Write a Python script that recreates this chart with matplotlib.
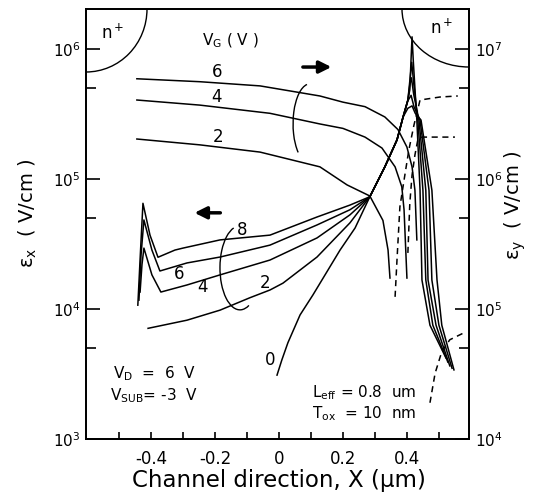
import numpy as np
import matplotlib
matplotlib.use("Agg")
import matplotlib.pyplot as plt
from matplotlib.patches import Arc
from matplotlib.ticker import FixedLocator, NullFormatter, FuncFormatter

plt.rcParams['font.family'] = ['DejaVu Sans']
plt.rcParams['mathtext.default'] = 'regular'

# transverse field eps_y (right axis), V_G = 2, 4, 6 V
x_ey_6 = [-0.444, -0.247, -0.059, 0.128, 0.200, 0.269, 0.331, 0.372, 0.400, 0.416, 0.425, 0.431]
ey_6 = [5.9e6, 5.6e6, 5.2e6, 4.35e6, 3.9e6, 3.6e6, 3.0e6, 2.4e6, 1.76e6, 1.24e6, 8.2e5, 3.4e5]
x_ey_4 = [-0.444, -0.247, -0.028, 0.128, 0.200, 0.269, 0.322, 0.363, 0.384, 0.391, 0.400]
ey_4 = [4.05e6, 3.7e6, 3.2e6, 2.65e6, 2.45e6, 2.1e6, 1.73e6, 1.24e6, 8.7e5, 5.8e5, 1.73e5]
x_ey_2 = [-0.444, -0.247, -0.059, 0.128, 0.213, 0.284, 0.325, 0.341, 0.347]
ey_2 = [2.03e6, 1.83e6, 1.61e6, 1.24e6, 9.0e5, 7.4e5, 4.8e5, 2.84e5, 1.73e5]

# dashed eps_y curves near the drain (right axis)
x_dash_a = [0.363, 0.369, 0.378, 0.391, 0.406, 0.422, 0.441, 0.503, 0.559]
e_dash_a = [1.24e5, 2.4e5, 6.1e5, 9.8e5, 1.67e6, 2.6e6, 4.05e6, 4.27e6, 4.35e6]
x_dash_b = [0.403, 0.409, 0.416, 0.425, 0.434, 0.447, 0.550]
e_dash_b = [2.7e5, 6.5e5, 1.07e6, 1.53e6, 2.0e6, 2.1e6, 2.1e6]
x_dash_c = [0.472, 0.488, 0.509, 0.534, 0.575]
e_dash_c = [1.9e4, 3.2e4, 4.7e4, 5.8e4, 6.5e4]

# longitudinal field eps_x (left axis), V_G = 0, 2, 4, 6, 8 V
x_ex_8 = [-0.441, -0.434, -0.425, -0.403, -0.378, -0.325, -0.300, -0.184, -0.028, 0.119, 0.222,
          0.284, 0.331, 0.369, 0.388, 0.403, 0.416, 0.426, 0.444, 0.478, 0.494, 0.509, 0.547]
ex_8 = [1.07e4, 2.4e4, 6.5e4, 3.7e4, 2.5e4, 2.84e4, 2.94e4, 3.4e4, 3.7e4, 5.1e4, 6.3e4,
        7.3e4, 1.24e5, 2.0e5, 3.0e5, 3.5e5, 3.65e5, 3.2e5, 2.84e5, 8.2e4, 1.67e4, 7.5e3, 3.4e3]
x_ex_6 = [-0.4375, -0.431, -0.422, -0.397, -0.372, -0.2875, -0.184, -0.028, 0.119, 0.222,
          0.284, 0.331, 0.369, 0.388, 0.403, 0.413, 0.422, 0.441, 0.469, 0.478, 0.500, 0.541]
ex_6 = [1.17e4, 2.6e4, 4.84e4, 2.84e4, 1.96e4, 2.26e4, 2.51e4, 3.1e4, 4.43e4, 5.8e4,
        7.3e4, 1.24e5, 2.0e5, 3.0e5, 4.0e5, 4.4e5, 3.6e5, 2.84e5, 8.2e4, 1.67e4, 7.5e3, 3.5e3]
x_ex_4 = [-0.434, -0.428, -0.422, -0.397, -0.369, -0.2875, -0.184, -0.028, 0.119, 0.222,
          0.284, 0.331, 0.369, 0.388, 0.403, 0.409, 0.414, 0.421, 0.4375, 0.459, 0.466, 0.491, 0.534]
ex_4 = [1.35e4, 2.2e4, 2.94e4, 1.83e4, 1.35e4, 1.53e4, 1.83e4, 2.38e4, 3.52e4, 5.3e4,
        7.3e4, 1.24e5, 2.0e5, 3.0e5, 4.05e5, 5.3e5, 6.0e5, 4.5e5, 2.84e5, 8.2e4, 1.67e4, 7.5e3, 3.65e3]
x_ex_2 = [-0.409, -0.2875, -0.184, -0.091, -0.028, 0.0125, 0.119, 0.222, 0.284, 0.331, 0.369,
          0.388, 0.403, 0.410, 0.415, 0.421, 0.434, 0.450, 0.459, 0.481, 0.528]
ex_2 = [7.1e3, 8.2e3, 9.8e3, 1.22e4, 1.4e4, 1.58e4, 2.51e4, 4.6e4, 7.3e4, 1.24e5, 2.0e5,
        3.0e5, 4.05e5, 6.0e5, 7.9e5, 5.5e5, 2.84e5, 8.2e4, 1.67e4, 7.5e3, 3.9e3]
x_ex_0 = [-0.006, 0.009, 0.028, 0.066, 0.106, 0.191, 0.238, 0.284, 0.331, 0.369, 0.388,
          0.403, 0.409, 0.4125, 0.416, 0.420, 0.431, 0.441, 0.447, 0.472, 0.522]
ex_0 = [3.1e3, 4.05e3, 5.5e3, 9.0e3, 1.28e4, 2.84e4, 4.2e4, 7.3e4, 1.24e5, 2.0e5, 3.0e5,
        4.05e5, 4.84e5, 7.9e5, 1.24e6, 8.0e5, 2.84e5, 8.2e4, 1.67e4, 7.5e3, 4.2e3]

x_ticks = [-0.4, -0.2, 0, 0.2, 0.4]
x_tick_labels = ['-0.4', '-0.2', '0', '0.2', '0.4']
x_minor = [-0.5, -0.3, -0.1, 0.1, 0.3, 0.5]

fig = plt.figure(figsize=(5.33, 4.98), dpi=100)
ax = fig.add_axes([86 / 533, 1 - 439 / 498, 383 / 533, 430 / 498])
ax2 = ax.twinx()

lw = 1.1
for xs, ys in [(x_ex_8, ex_8), (x_ex_6, ex_6), (x_ex_4, ex_4), (x_ex_2, ex_2), (x_ex_0, ex_0)]:
    ax.plot(xs, ys, color='k', lw=lw)
for xs, ys in [(x_ey_6, ey_6), (x_ey_4, ey_4), (x_ey_2, ey_2)]:
    ax2.plot(xs, ys, color='k', lw=lw)
for xs, ys in [(x_dash_a, e_dash_a), (x_dash_b, e_dash_b), (x_dash_c, e_dash_c)]:
    ax2.plot(xs, ys, color='k', lw=lw, dashes=(4, 3))

ax.set_xlim(-0.603, 0.594)
ax.set_yscale('log')
ax.set_ylim(1e3, 2.03e6)
ax2.set_yscale('log')
ax2.set_ylim(1e4, 2.03e7)

fmt = FuncFormatter(lambda v, p: '$10^{%d}$' % int(round(np.log10(v))))
ax.yaxis.set_major_locator(FixedLocator([1e3, 1e4, 1e5, 1e6]))
ax.yaxis.set_minor_locator(FixedLocator([5e3, 5e4, 5e5]))
ax.yaxis.set_major_formatter(fmt)
ax.yaxis.set_minor_formatter(NullFormatter())
ax2.yaxis.set_major_locator(FixedLocator([1e4, 1e5, 1e6, 1e7]))
ax2.yaxis.set_minor_locator(FixedLocator([5e4, 5e5, 5e6]))
ax2.yaxis.set_major_formatter(fmt)
ax2.yaxis.set_minor_formatter(NullFormatter())

ax.set_xticks(x_ticks)
ax.set_xticklabels(x_tick_labels)
ax.set_xticks(x_minor, minor=True)

for a in (ax, ax2):
    a.tick_params(axis='y', which='major', direction='in', length=10, width=1.2, labelsize=11, pad=4)
    a.tick_params(axis='y', which='minor', direction='in', length=7, width=1.2)
    for s in a.spines.values():
        s.set_linewidth(1.3)
ax.tick_params(axis='x', which='both', direction='in', length=5, width=1.2, labelsize=12, pad=8, top=False)

# labels
fig.text(0.523, 0.036, 'Channel direction, X (μm)', ha='center', va='center', fontsize=16.5)
fig.text(0.052, 0.572, 'ε$_x$  ( V/cm )', ha='center', va='center', rotation=90, fontsize=14)
fig.text(0.966, 0.588, 'ε$_y$  ( V/cm )', ha='center', va='center', rotation=90, fontsize=14)

# n+ regions
ax.add_patch(Arc((0, 1), 2 * 61 / 383, 2 * 63 / 430, theta1=270, theta2=360,
                 transform=ax.transAxes, color='k', lw=1.0, clip_on=True))
ax.add_patch(Arc((1, 1), 2 * 67 / 383, 2 * 58 / 430, theta1=180, theta2=270,
                 transform=ax.transAxes, color='k', lw=1.0, clip_on=True))
ax.text(0.0705, 0.944, 'n$^+$', transform=ax.transAxes, ha='center', va='center', fontsize=12)
ax.text(0.930, 0.956, 'n$^+$', transform=ax.transAxes, ha='center', va='center', fontsize=12)

# brackets grouping the curves
ax.add_patch(Arc((0.585, 0.733), 34 / 383, 80 / 430, theta1=95, theta2=245,
                 transform=ax.transAxes, color='k', lw=1.0))
ax.add_patch(Arc((0.402, 0.398), 40 / 383, 84 / 430, theta1=100, theta2=285,
                 transform=ax.transAxes, color='k', lw=1.0))

# arrows
ax.annotate('', xy=(0.648, 0.865), xytext=(0.559, 0.865), xycoords='axes fraction',
            arrowprops=dict(arrowstyle='-|>', lw=2.5, color='k', mutation_scale=18))
ax.annotate('', xy=(0.276, 0.526), xytext=(0.358, 0.526), xycoords='axes fraction',
            arrowprops=dict(arrowstyle='-|>', lw=2.5, color='k', mutation_scale=18))

# annotations
ax.text(0.376, 0.926, 'V$_G$ ( V )', transform=ax.transAxes, ha='center', va='center', fontsize=11)
for t, fx, fy in [('6', 0.342, 0.853), ('4', 0.342, 0.795), ('2', 0.345, 0.702),
                  ('8', 0.407, 0.486), ('6', 0.243, 0.384), ('4', 0.305, 0.353),
                  ('2', 0.467, 0.363), ('0', 0.480, 0.184)]:
    ax.text(fx, fy, t, transform=ax.transAxes, ha='center', va='center', fontsize=12)
ax.text(0.07, 0.153, 'V$_D$  =  6  V', transform=ax.transAxes, ha='left', va='center', fontsize=11)
ax.text(0.063, 0.100, 'V$_{SUB}$= -3  V', transform=ax.transAxes, ha='left', va='center', fontsize=11)
ax.text(0.590, 0.107, 'L$_{eff}$ = 0.8  um', transform=ax.transAxes, ha='left', va='center', fontsize=11)
ax.text(0.590, 0.060, 'T$_{ox}$  = 10  nm', transform=ax.transAxes, ha='left', va='center', fontsize=11)

fig.savefig('out.png', dpi=100)
